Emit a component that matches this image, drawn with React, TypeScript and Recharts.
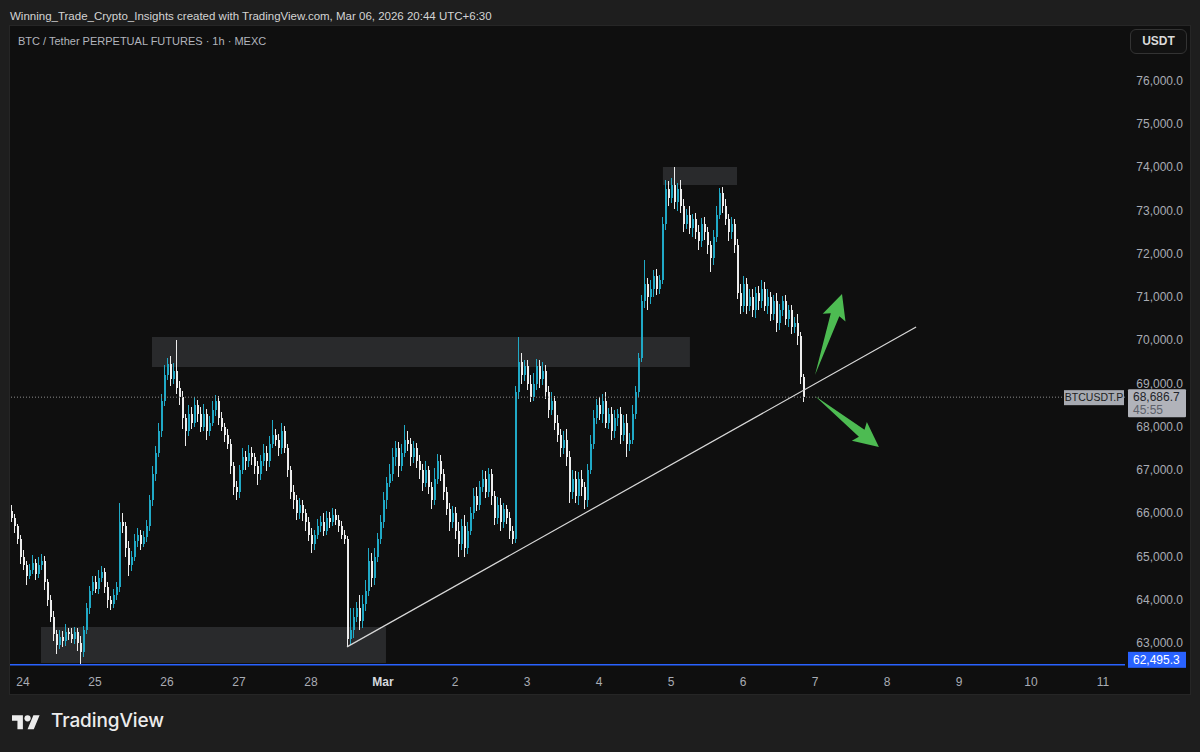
import React from 'react';
import {
  ComposedChart,
  Bar,
  XAxis,
  YAxis,
  ReferenceLine,
  ReferenceArea,
} from 'recharts';

// BTCUSDT.P 1h candles, first one is Feb 23 20:00 (hour -4 from Feb 24 00:00)
const FIRST_HOUR = -4;
const firstOpen = 66050;

// closes, one row per day
const closes = [
  65900, 65700, 65400, 65000,
  // Feb 24
  64800, 64550, 64700, 64850, 64600, 64800, 64900, 64400, 64000, 63600, 63200, 62950,
  63150, 63050, 63250, 63200, 63100, 63250, 63000, 62800, 63300, 63800, 64200, 64400,
  // Feb 25
  64250, 64500, 64650, 64300, 64000, 63900, 64100, 64300, 65800, 65700, 65200, 64800,
  65000, 65350, 65500, 65300, 65450, 65700, 66300, 66900, 67400, 67900, 68600, 69200,
  // Feb 26
  69450, 69100, 69300, 68900, 68700, 68200, 67900, 68300, 68100, 68500, 68300, 68000,
  68300, 67900, 68100, 68400, 68600, 68200, 68000, 67800, 67600, 67100, 66600, 66500,
  // Feb 27
  67000, 67300, 67200, 67400, 67300, 67100, 66900, 67200, 67400, 67200, 67600, 67800,
  67700, 67500, 67900, 67500, 67000, 66500, 66300, 66000, 66200, 66000, 65800, 65500,
  // Feb 28
  65300, 65500, 65700, 65800, 65600, 65900, 65800, 65950, 65850, 65700, 65500, 65400,
  63100, 63300, 63600, 63800, 63500, 63900, 64200, 64900, 64500, 65000, 65400, 65800,
  // Mar 1
  66300, 66700, 66900, 67300, 67500, 67100, 67400, 67700, 67600, 67300, 67500, 67200,
  67000, 66700, 67000, 66600, 66300, 66800, 67200, 66900, 66500, 66100, 65800, 66000,
  // Mar 2
  65600, 65300, 65700, 65200, 65600, 66000, 66400, 66200, 66600, 66800, 66500, 66900,
  66400, 65900, 66200, 65800, 66100, 65900, 65600, 65400, 68800, 69500, 69200, 69400,
  // Mar 3
  69000, 68700, 69000, 69400, 69100, 69300, 68800, 68400, 68600, 68100, 67800, 67500,
  67700, 67300, 66500, 66800, 66400, 66800, 66600, 66300, 67000, 67600, 68200, 68500,
  // Mar 4
  68300, 68600, 68100, 68300, 67900, 68200, 68300, 67800, 68100, 67600, 67700, 68300,
  68800, 69600, 70900, 71300, 71000, 71200, 71500, 71200, 71400, 72700, 73500, 73300,
  // Mar 5
  73600, 73200, 73500, 73100, 72700, 72900, 72600, 72800, 72500, 72300, 72700, 72500,
  72200, 71900, 72400, 72900, 73400, 73100, 72800, 72500, 72700, 72200, 71100, 70800,
  // Mar 6
  71300, 70800, 71000, 70700, 71100, 70900, 71200, 70800, 71000, 70600, 70900, 70400,
  70700, 70900, 70500, 70700, 70300, 70400, 70100, 69150, 68686.7,
];

// upper wick above the body top, in USDT
const wickUp = [
  150, 80, 60, 90,
  150, 100, 120, 180, 90, 200, 150, 110, 80, 100, 130, 90,
  150, 120, 180, 100, 140, 120, 90, 160, 100, 130, 110, 150,
  150, 180, 120, 90, 110, 80, 140, 120, 440, 200, 100, 150,
  120, 180, 160, 110, 140, 150, 130, 200, 160, 180, 150, 220,
  150, 200, 180, 700, 150, 120, 100, 200, 150, 180, 130, 160,
  220, 110, 150, 200, 130, 120, 150, 100, 140, 120, 90, 150,
  120, 200, 150, 180, 130, 100, 120, 160, 200, 150, 180, 360,
  150, 130, 180, 120, 100, 90, 150, 120, 160, 110, 90, 120,
  150, 120, 180, 130, 200, 150, 120, 180, 140, 100, 130, 120,
  80, 500, 200, 150, 300, 220, 250, 300, 180, 200, 150, 160,
  200, 150, 250, 200, 180, 150, 200, 350, 200, 150, 180, 120,
  150, 130, 200, 100, 120, 250, 180, 150, 130, 100, 150, 180,
  150, 200, 180, 250, 200, 150, 180, 220, 150, 200, 180, 150,
  130, 120, 180, 150, 130, 100, 120, 100, 150, 580, 200, 150,
  150, 200, 250, 180, 150, 200, 130, 150, 200, 120, 180, 150,
  200, 250, 150, 200, 180, 150, 200, 120, 150, 200, 180, 150,
  180, 150, 200, 130, 150, 200, 120, 150, 180, 200, 150, 200,
  150, 100, 150, 560, 150, 200, 130, 150, 120, 150, 200, 180,
  150, 410, 150, 200, 180, 150, 200, 130, 150, 180, 120, 150,
  130, 100, 150, 200, 125, 150, 180, 130, 150, 100, 150, 200,
  200, 150, 180, 200, 130, 150, 200, 150, 180, 130, 150, 200,
  150, 120, 150, 130, 120, 150, 200, 100, 80,
];

// lower wick below the body bottom, in USDT
const wickDown = [
  100, 150, 120, 180,
  120, 200, 80, 100, 150, 90, 110, 180, 140, 120, 160, 200,
  100, 150, 110, 130, 100, 120, 180, 305, 120, 100, 140, 90,
  100, 120, 80, 150, 180, 140, 90, 100, 120, 150, 200, 250,
  130, 100, 120, 160, 90, 110, 100, 120, 150, 100, 130, 110,
  120, 150, 100, 130, 200, 250, 350, 120, 150, 100, 180, 130,
  100, 200, 120, 90, 150, 160, 100, 140, 120, 200, 180, 200,
  150, 100, 200, 120, 180, 200, 250, 130, 100, 220, 120, 100,
  150, 180, 120, 100, 150, 180, 200, 150, 120, 180, 200, 150,
  220, 150, 100, 130, 120, 100, 150, 90, 120, 140, 100, 120,
  200, 150, 180, 120, 200, 150, 160, 120, 200, 150, 120, 100,
  150, 200, 100, 150, 200, 250, 120, 100, 150, 200, 130, 150,
  200, 180, 100, 150, 200, 100, 120, 150, 200, 150, 200, 150,
  200, 300, 150, 200, 150, 100, 120, 150, 130, 100, 150, 120,
  200, 180, 150, 200, 130, 150, 200, 100, 80, 150, 200, 150,
  150, 120, 100, 150, 200, 130, 150, 200, 120, 180, 150, 200,
  120, 200, 250, 180, 150, 200, 200, 200, 150, 100, 120, 130,
  150, 200, 130, 150, 200, 150, 180, 200, 130, 300, 150, 100,
  120, 100, 100, 150, 300, 150, 200, 150, 130, 100, 150, 200,
  120, 150, 200, 150, 200, 130, 150, 200, 150, 200, 130, 180,
  200, 310, 150, 120, 100, 150, 130, 200, 150, 180, 150, 200,
  150, 200, 130, 150, 180, 200, 150, 130, 200, 150, 130, 200,
  150, 130, 150, 200, 150, 130, 200, 150, 110,
];

// x axis: hours since Feb 24 00:00
const dayTicks = [0, 24, 48, 72, 96, 120, 144, 168, 192, 216, 240, 264, 288, 312, 336, 360];
const dayLabels = ['24', '25', '26', '27', '28', 'Mar', '2', '3', '4', '5', '6', '7', '8', '9', '10', '11'];
const priceTicks = [63000, 64000, 65000, 66000, 67000, 68000, 69000, 70000, 71000, 72000, 73000, 74000, 75000, 76000];

const lastPrice = 68686.7;
const lowPrice = 62495.3;

// drawn zones, hours / prices
const zoneHours = [[6, 121], [43, 222.3], [213.3, 238]];
const zonePrices = [[62540, 63370], [69385, 70080], [73595, 74010]];
const trendLine = [{ x: 108, y: 62910 }, { x: 297.7, y: 70310 }];
const arrowUp = [{ x: 264, y: 69200 }, { x: 273, y: 71075 }];
const arrowDown = [{ x: 264, y: 68715 }, { x: 285.3, y: 67535 }];

const UP = '#20a9c6';
const DOWN = '#ededed';
const TEXT = '#a9acb4';
const FONT = '"Liberation Sans", Arial, sans-serif';

const candles = closes.map((close, i) => {
  const open = i === 0 ? firstOpen : closes[i - 1];
  return {
    h: FIRST_HOUR + i,
    open,
    close,
    high: Math.max(open, close) + wickUp[i],
    low: Math.min(open, close) - wickDown[i],
  };
});

function Candle(props: any) {
  const { x, y, width, height, payload } = props;
  if (!payload) return null;
  const { open, close, high, low } = payload;
  const top = Math.min(y, y + height);
  const span = Math.abs(height);
  const k = span / (high - low);
  const yOpen = top + (high - open) * k;
  const yClose = top + (high - close) * k;
  const color = close >= open ? UP : DOWN;
  const cx = Math.round(x + width / 2);
  const bodyTop = Math.min(yOpen, yClose);
  const bodyH = Math.max(1, Math.abs(yOpen - yClose));
  return (
    <g shapeRendering="crispEdges">
      <rect x={cx} y={top} width={1} height={span} fill={color} />
      <rect x={cx - 0.5} y={bodyTop} width={2} height={bodyH} fill={color} />
    </g>
  );
}

function Arrow(props: any) {
  const { x1, y1, x2, y2 } = props;
  const len = Math.hypot(x2 - x1, y2 - y1);
  const ux = (x2 - x1) / len;
  const uy = (y2 - y1) / len;
  const nx = -uy;
  const ny = ux;
  const headL = 22;
  const headW = 12;
  const shaftW = 4.5;
  const bx = x2 - ux * headL;
  const by = y2 - uy * headL;
  const pts = [
    [x1, y1],
    [bx + nx * shaftW, by + ny * shaftW],
    [bx + nx * headW - ux * 3, by + ny * headW - uy * 3],
    [x2, y2],
    [bx - nx * headW - ux * 3, by - ny * headW - uy * 3],
    [bx - nx * shaftW, by - ny * shaftW],
  ];
  return <polygon points={pts.map((p) => p.join(',')).join(' ')} fill="#4dbb52" />;
}

function PriceTick(props: any) {
  const { x, y, payload } = props;
  return (
    <text x={x + 50} y={y + 4} textAnchor="end" fill={TEXT} fontSize={12} fontFamily={FONT}>
      {payload.value.toLocaleString('en-US', { minimumFractionDigits: 1 })}
    </text>
  );
}

function DayTick(props: any) {
  const { x, y, payload } = props;
  const label = dayLabels[dayTicks.indexOf(payload.value)];
  const isMonth = label === 'Mar';
  return (
    <text
      x={x}
      y={y + 11}
      textAnchor="middle"
      fill={isMonth ? '#d6d8de' : TEXT}
      fontSize={12}
      fontWeight={isMonth ? 700 : 400}
      fontFamily={FONT}
    >
      {label}
    </text>
  );
}

function LastPriceLabel(props: any) {
  const { viewBox } = props;
  const right = viewBox.x + viewBox.width;
  const y = viewBox.y;
  return (
    <g fontFamily={FONT}>
      <rect x={right - 61} y={y - 7} width={60} height={15} fill="#a7aab1" />
      <text x={right - 31} y={y + 4} textAnchor="middle" fontSize={10.5} fill="#1c1d21">
        BTCUSDT.P
      </text>
      <rect x={right + 3} y={y - 8} width={58} height={28} fill="#b1b3ba" rx={1} />
      <text x={right + 8} y={y + 4} fontSize={12} fill="#23252b">
        68,686.7
      </text>
      <text x={right + 8} y={y + 17} fontSize={12} fill="#5e616a">
        45:55
      </text>
    </g>
  );
}

function LowPriceLabel(props: any) {
  const { viewBox } = props;
  const right = viewBox.x + viewBox.width;
  const y = viewBox.y;
  return (
    <g fontFamily={FONT}>
      <rect x={right + 3} y={y - 13} width={58} height={16} fill="#2962ff" />
      <text x={right + 8} y={y - 1} fontSize={12} fill="#ffffff">
        62,495.3
      </text>
    </g>
  );
}

export default function App() {
  return (
    <div
      style={{
        position: 'absolute',
        left: 0,
        top: 0,
        width: 1200,
        height: 752,
        background: '#1e1e1e',
        overflow: 'hidden',
        fontFamily: FONT,
      }}
    >
      <div
        style={{
          position: 'absolute',
          left: 10,
          top: 10,
          fontSize: 11.5,
          color: '#d4d4d4',
          whiteSpace: 'nowrap',
        }}
      >
        Winning_Trade_Crypto_Insights created with TradingView.com, Mar 06, 2026 20:44 UTC+6:30
      </div>
      <div
        style={{
          position: 'absolute',
          left: 9,
          top: 25,
          width: 1180,
          height: 668,
          background: '#0f0f0f',
          border: '1px solid #262626',
        }}
      />
      <div style={{ position: 'absolute', left: 0, top: 0 }}>
        <ComposedChart
          width={1200}
          height={752}
          data={candles}
          margin={{ top: 28, right: 10, bottom: 52, left: 10 }}
        >
          <XAxis
            dataKey="h"
            type="number"
            domain={[-4.333, 367.333]}
            allowDataOverflow
            ticks={dayTicks}
            tick={<DayTick />}
            axisLine={false}
            tickLine={false}
            height={33}
          />
          <YAxis
            orientation="right"
            type="number"
            domain={[62445, 77226]}
            allowDataOverflow
            ticks={priceTicks}
            tick={<PriceTick />}
            axisLine={false}
            tickLine={false}
            width={65}
          />
          <ReferenceLine
            y={lastPrice}
            stroke="#8c8c8c"
            strokeDasharray="1 2"
            label={(p: any) => <LastPriceLabel {...p} />}
          />
          <ReferenceLine
            y={lowPrice}
            stroke="#2962ff"
            strokeWidth={1.5}
            label={(p: any) => <LowPriceLabel {...p} />}
          />
          <Bar
            dataKey={(d: any) => [d.low, d.high]}
            barSize={3}
            shape={<Candle />}
            isAnimationActive={false}
          />
          {zoneHours.map((hrs, i) => (
            <ReferenceArea
              key={i}
              x1={hrs[0]}
              x2={hrs[1]}
              y1={zonePrices[i][0]}
              y2={zonePrices[i][1]}
              fill="#8a8d96"
              fillOpacity={0.22}
              stroke="none"
            />
          ))}
          <ReferenceLine segment={trendLine} stroke="#d8d8d8" strokeWidth={1.2} />
          <ReferenceLine segment={arrowUp} shape={(p: any) => <Arrow {...p} />} />
          <ReferenceLine segment={arrowDown} shape={(p: any) => <Arrow {...p} />} />
        </ComposedChart>
      </div>
      <div
        style={{
          position: 'absolute',
          left: 18,
          top: 35,
          fontSize: 11,
          color: '#b2b5bd',
          whiteSpace: 'nowrap',
        }}
      >
        BTC / Tether PERPETUAL FUTURES · 1h · MEXC
      </div>
      <div
        style={{
          position: 'absolute',
          left: 1130,
          top: 29,
          width: 55,
          height: 23,
          border: '1px solid #333',
          borderRadius: 6,
          background: '#121212',
          color: '#dadada',
          fontSize: 12,
          fontWeight: 700,
          lineHeight: '23px',
          textAlign: 'center',
        }}
      >
        USDT
      </div>
      <svg
        style={{ position: 'absolute', left: 12, top: 712 }}
        width={28}
        height={22}
        viewBox="0 0 36 28"
      >
        <path d="M14 22H7V11H0V4h14v18zM28 22h-8l7.5-18h8L28 22z" fill="#ececec" />
        <circle cx="20" cy="8" r="4" fill="#ececec" />
      </svg>
      <div
        style={{
          position: 'absolute',
          left: 51,
          top: 709,
          fontSize: 19,
          fontWeight: 500,
          color: '#ececec',
          fontFamily: 'Inter, "Noto Sans", sans-serif',
          letterSpacing: -0.1,
          whiteSpace: 'nowrap',
        }}
      >
        TradingView
      </div>
    </div>
  );
}
